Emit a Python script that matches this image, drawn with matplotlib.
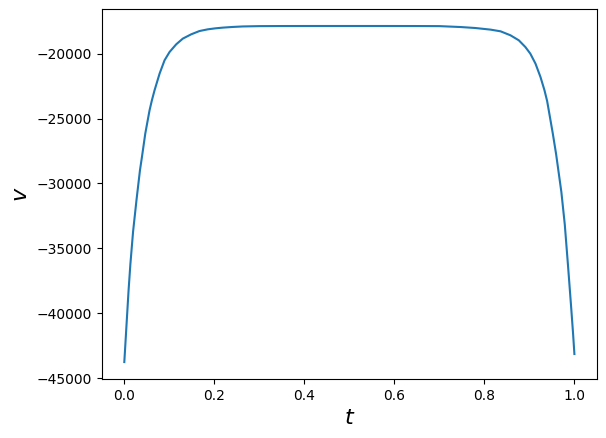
import matplotlib
matplotlib.use("Agg")
import matplotlib.pyplot as plt

# values
t = [0.0, 0.0051, 0.0095, 0.0135, 0.0195, 0.0273, 0.0348, 0.0392, 0.0466, 0.0561,
     0.0613, 0.0672, 0.0784, 0.0894, 0.1005, 0.1153, 0.130, 0.1486, 0.167, 0.1855,
     0.2025, 0.219, 0.24, 0.263, 0.30, 0.35, 0.42, 0.5, 0.58, 0.65, 0.70,
     0.747, 0.78, 0.8137, 0.836, 0.858, 0.8765, 0.891, 0.902, 0.9135, 0.9246,
     0.9335, 0.9394, 0.943, 0.952, 0.9594, 0.971, 0.9786, 0.986, 0.9927, 0.997, 1.0]
v = [-43750, -40769, -38208, -36200, -33700, -31200, -28977, -27954, -26154, -24362,
     -23592, -22823, -21538, -20515, -19877, -19285, -18846, -18515, -18262, -18131,
     -18054, -18000, -17950, -17910, -17885, -17878, -17875, -17875, -17875, -17878, -17885,
     -17954, -18030, -18154, -18285, -18592, -18977, -19492, -20000, -20769, -21800,
     -22823, -23650, -24362, -26154, -27750, -30650, -33150, -36415, -39492, -41540, -43130]

fig = plt.figure(figsize=(6.06, 4.38), dpi=100)
ax = fig.add_subplot()
fig.subplots_adjust(left=0.168, right=0.985, top=0.979, bottom=0.135)

ax.plot(t, v)
ax.set_xlabel("$t$", fontsize=16)
ax.set_ylabel("$v$", fontsize=16)

plt.savefig("out.png")
